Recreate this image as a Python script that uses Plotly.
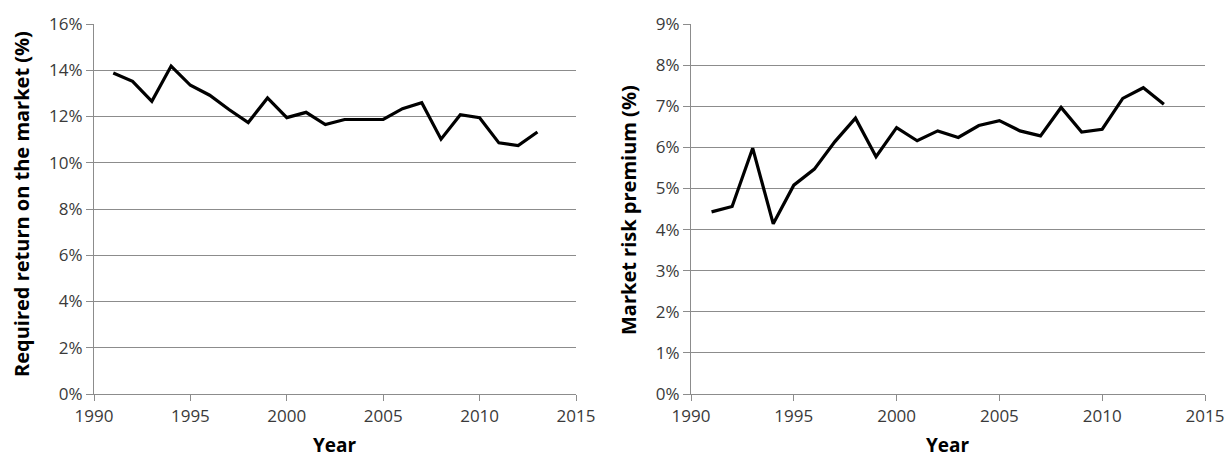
import plotly.graph_objects as go

years = list(range(1991, 2014))
required_return = [13.88, 13.52, 12.66, 14.18, 13.35, 12.92, 12.30, 11.74, 12.80, 11.95,
                   12.18, 11.65, 11.87, 11.87, 11.87, 12.34, 12.60, 11.02, 12.08, 11.95,
                   10.86, 10.74, 11.33]
risk_premium = [4.43, 4.56, 5.98, 4.14, 5.08, 5.47, 6.14, 6.71, 5.77, 6.48,
                6.16, 6.40, 6.24, 6.53, 6.65, 6.40, 6.28, 6.97, 6.37, 6.44,
                7.19, 7.45, 7.05]
x_ticks = [1990, 1995, 2000, 2005, 2010, 2015]
left_ticks = [0, 2, 4, 6, 8, 10, 12, 14, 16]
right_ticks = [0, 1, 2, 3, 4, 5, 6, 7, 8, 9]

FONT = "Open Sans"
TICK_COLOR = "#3a3a3a"
GRID = "#8c8c8c"

fig = go.Figure()
fig.add_trace(go.Scatter(x=years, y=required_return, mode="lines",
                         line=dict(color="black", width=3.2), xaxis="x", yaxis="y",
                         showlegend=False))
fig.add_trace(go.Scatter(x=years, y=risk_premium, mode="lines",
                         line=dict(color="black", width=3.2), xaxis="x2", yaxis="y2",
                         showlegend=False))

xcommon = dict(range=[1990, 2015], tickvals=x_ticks, ticktext=[str(v) for v in x_ticks],
               showgrid=False, zeroline=False, automargin=False,
               showline=True, linecolor=GRID, linewidth=1.3, ticks="outside", ticklen=6,
               tickcolor=GRID, tickwidth=1.3,
               tickfont=dict(family=FONT, size=17, color=TICK_COLOR))
ycommon = dict(showgrid=True, gridcolor=GRID, gridwidth=1.3, zeroline=False, automargin=False,
               showline=True, linecolor=GRID, linewidth=1.3, ticks="outside", ticklen=7,
               tickcolor=GRID, tickwidth=1.3,
               tickfont=dict(family=FONT, size=17, color=TICK_COLOR))

L, R, T, B = 94, 1205, 24, 394
W, H = 1227, 457
pw = R - L
fig.update_layout(
    width=W, height=H,
    margin=dict(l=L, r=W - R, t=T, b=H - B, autoexpand=False),
    paper_bgcolor="white", plot_bgcolor="white",
    xaxis=dict(domain=[0, (576 - L) / pw], anchor="y", **xcommon),
    yaxis=dict(domain=[0, 1], anchor="x", range=[0, 16], tickvals=left_ticks,
               ticktext=[f"{v}%" for v in left_ticks], **ycommon),
    xaxis2=dict(domain=[(691 - L) / pw, 1], anchor="y2", **xcommon),
    yaxis2=dict(domain=[0, 1], anchor="x2", range=[0, 9], tickvals=right_ticks,
                ticktext=[f"{v}%" for v in right_ticks], **ycommon),
    annotations=[
        dict(text="<b>Year</b>", x=(L + 576) / 2, y=445, xref="paper", yref="paper",
             showarrow=False, font=dict(family=FONT, size=19, color="black"),
             xanchor="center", yanchor="middle"),
        dict(text="<b>Year</b>", x=(691 + R) / 2, y=445, xref="paper", yref="paper",
             showarrow=False, font=dict(family=FONT, size=19, color="black"),
             xanchor="center", yanchor="middle"),
        dict(text="<b>Required return on the market (%)</b>", x=21, y=204,
             xref="paper", yref="paper", showarrow=False, textangle=-90,
             font=dict(family=FONT, size=20, color="black"), xanchor="center", yanchor="middle"),
        dict(text="<b>Market risk premium (%)</b>", x=628, y=210,
             xref="paper", yref="paper", showarrow=False, textangle=-90,
             font=dict(family=FONT, size=20, color="black"), xanchor="center", yanchor="middle"),
    ],
)
# convert pixel positions of annotations to paper fractions
for a in fig.layout.annotations:
    a.x = (a.x - L) / pw
    a.y = (B - a.y) / (B - T)

fig.write_html("out.html", config={"displayModeBar": False},
               post_script="document.body.style.margin='0';")
